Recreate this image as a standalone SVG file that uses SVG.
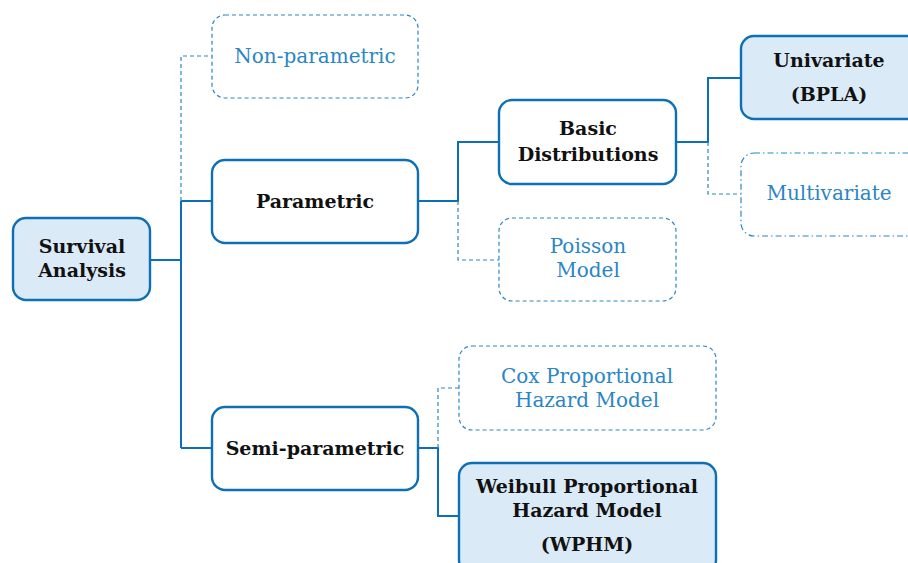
<svg xmlns="http://www.w3.org/2000/svg" width="908" height="563" viewBox="0 0 908 563">
<style>
.n{fill:#fff;stroke:#0d70b6;stroke-width:2.4}
.h{fill:#daeaf7;stroke:#0d70b6;stroke-width:2.4}
.d{fill:#fff;stroke:#2a86c4;stroke-width:1.2;stroke-dasharray:4 3}
.dd{fill:#fff;stroke:#2a86c4;stroke-width:1.2;stroke-dasharray:6 3 1.5 3}
.c{fill:none;stroke:#0d70b6;stroke-width:2}
.cd{fill:none;stroke:#2a86c4;stroke-width:1.2;stroke-dasharray:4 3}
text{font-family:"DejaVu Serif","Liberation Serif",serif;font-size:20px;text-anchor:middle}
.b{font-weight:bold;fill:#111;font-size:19px}
.t{fill:#2a86c4}
</style>
<g id="connectors">
<path class="c" d="M150 260H181M181 201V448M181 201H212M181 448H212"/>
<path class="cd" d="M181 201V56H212"/>
<path class="c" d="M418 201H458V142H499"/>
<path class="cd" d="M458 201V260H499"/>
<path class="c" d="M676 142H708V78H741"/>
<path class="cd" d="M708 142V194H741"/>
<path class="c" d="M418 448H438V516H459"/>
<path class="cd" d="M438 448V388H459"/>
</g>
<g id="survival"><rect class="h" x="13" y="218" width="137" height="82" rx="13"/><text class="b" x="82" y="253">Survival</text><text class="b" x="82" y="277">Analysis</text></g>
<g id="nonparametric"><rect class="d" x="212" y="15" width="206" height="83" rx="13"/><text class="t" x="315" y="63">Non-parametric</text></g>
<g id="parametric"><rect class="n" x="212" y="160" width="206" height="83" rx="13"/><text class="b" x="315" y="208">Parametric</text></g>
<g id="semiparametric"><rect class="n" x="212" y="407" width="206" height="83" rx="13"/><text class="b" x="315" y="455">Semi-parametric</text></g>
<g id="basic"><rect class="n" x="499" y="100" width="177" height="84" rx="13"/><text class="b" x="588" y="135">Basic</text><text class="b" x="588" y="161">Distributions</text></g>
<g id="poisson"><rect class="d" x="499" y="218" width="177" height="83" rx="13"/><text class="t" x="588" y="253">Poisson</text><text class="t" x="588" y="277">Model</text></g>
<g id="univariate"><rect class="h" x="741" y="36" width="180" height="83" rx="13"/><text class="b" x="829" y="67">Univariate</text><text class="b" x="829" y="101">(BPLA)</text></g>
<g id="multivariate"><rect class="dd" x="741" y="153" width="180" height="83" rx="13"/><text class="t" x="829" y="200">Multivariate</text></g>
<g id="cox"><rect class="d" x="459" y="346" width="257" height="84" rx="13"/><text class="t" x="587" y="383">Cox Proportional</text><text class="t" x="587" y="407">Hazard Model</text></g>
<g id="wphm"><rect class="h" x="459" y="463" width="257" height="110" rx="13"/><text class="b" x="587" y="493">Weibull Proportional</text><text class="b" x="587" y="517">Hazard Model</text><text class="b" x="587" y="551">(WPHM)</text></g>
</svg>
